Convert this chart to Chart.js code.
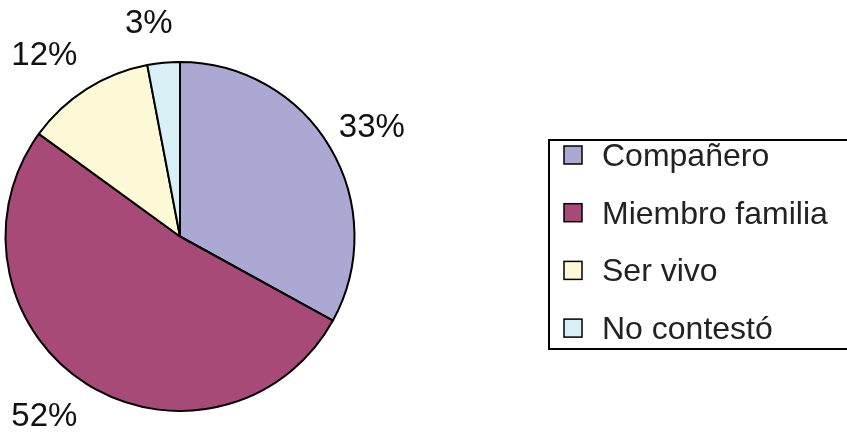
<!DOCTYPE html>
<html>
<head>
<meta charset="utf-8">
<script src="https://cdn.jsdelivr.net/npm/chart.js@4/dist/chart.umd.min.js"></script>
<style>
  html, body { margin: 0; padding: 0; background: #fff; }
  #wrap { width: 847px; height: 432px; position: relative; }
</style>
</head>
<body>
<div id="wrap"><canvas id="myChart" width="847" height="432"></canvas></div>
<script>
// datos del grafico
const categorias = ["Compañero", "Miembro familia", "Ser vivo", "No contestó"];
const porcentajes = [33, 52, 12, 3];
const colores = ["#ABA8D4", "#A84A78", "#FEF9D6", "#DAF0F7"];

const fuente = '"Liberation Sans", Arial, sans-serif';

// etiquetas de porcentaje fuera del pastel (el borde del texto queda a una distancia fija)
const etiquetasPlugin = {
    id: 'etiquetas',
    afterDatasetsDraw(chart) {
        const ctx = chart.ctx;
        const arcs = chart.getDatasetMeta(0).data;
        ctx.save();
        ctx.font = '33px ' + fuente;
        ctx.fillStyle = '#111';
        ctx.textAlign = 'center';
        ctx.textBaseline = 'middle';
        arcs.forEach((arc, i) => {
            const p = arc.getProps(['x', 'y', 'startAngle', 'endAngle', 'outerRadius'], true);
            const mid = (p.startAngle + p.endAngle) / 2;
            const txt = porcentajes[i] + '%';
            const w = ctx.measureText(txt).width;
            const h = 24;
            const r = p.outerRadius + 27;
            const cx = p.x + Math.cos(mid) * r + Math.cos(mid) * w / 2 - 10;
            const cy = p.y + Math.sin(mid) * r + Math.sin(mid) * h / 2 - 1;
            ctx.fillText(txt, cx, cy + 1);
        });
        ctx.restore();
    }
};

// leyenda dibujada a mano con recuadro
const leyendaPlugin = {
    id: 'leyenda',
    afterDraw(chart) {
        const ctx = chart.ctx;
        ctx.save();
        ctx.strokeStyle = '#000';
        ctx.lineWidth = 2;
        ctx.strokeRect(549, 140, 320, 209);
        ctx.font = '32px ' + fuente;
        ctx.textBaseline = 'middle';
        chart.data.labels.forEach((lab, i) => {
            const y = 155 + i * 57.7;
            ctx.fillStyle = colores[i];
            ctx.fillRect(564, y - 9, 18, 18);
            ctx.lineWidth = 1.5;
            ctx.strokeStyle = '#000';
            ctx.strokeRect(564, y - 9, 18, 18);
            ctx.fillStyle = '#222';
            ctx.fillText(lab, 602, y + 2);
        });
        ctx.restore();
    }
};

let miCanvas = document.getElementById("myChart").getContext("2d");

var chart = new Chart(miCanvas, {
    type: "pie",
    data: {
        labels: categorias,
        datasets: [{
            data: porcentajes,
            backgroundColor: colores,
            borderColor: "#000",
            borderWidth: 2
        }]
    },
    options: {
        responsive: false,
        animation: false,
        layout: {
            padding: { left: 4.5, right: 491.5, top: 61, bottom: 20 }
        },
        plugins: {
            legend: { display: false },
            tooltip: { enabled: false }
        }
    },
    plugins: [etiquetasPlugin, leyendaPlugin]
});
</script>
</body>
</html>
